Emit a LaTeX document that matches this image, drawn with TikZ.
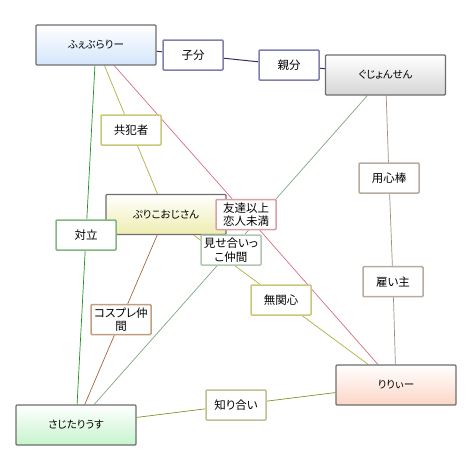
\documentclass[tikz,border=0pt]{standalone}
\usepackage{fontspec}
\setmainfont{Noto Sans CJK JP}[RawFeature=+palt]
\usetikzlibrary{backgrounds}
\definecolor{mainborder}{HTML}{6E6E6E}
\definecolor{febc}{HTML}{D4E6FC}
\definecolor{gujc}{HTML}{D6D6D6}
\definecolor{puric}{HTML}{EEEDB0}
\definecolor{riric}{HTML}{FCD6C6}
\definecolor{sajic}{HTML}{C6F4CC}
\definecolor{navyline}{HTML}{303070}
\definecolor{navybox}{HTML}{8080B0}
\definecolor{oliveline}{HTML}{B0B040}
\definecolor{olivebox}{HTML}{C8C878}
\definecolor{pinkline}{HTML}{D87080}
\definecolor{pinkbox}{HTML}{D8A0A8}
\definecolor{greenline}{HTML}{209020}
\definecolor{greenbox}{HTML}{80B880}
\definecolor{grgrline}{HTML}{80A880}
\definecolor{grgrbox}{HTML}{B0C8B0}
\definecolor{brownline}{HTML}{A06840}
\definecolor{brownbox}{HTML}{C0A080}
\definecolor{taupeline}{HTML}{A09080}
\definecolor{taupebox}{HTML}{B8ACA0}
\definecolor{acqline}{HTML}{909030}
\definecolor{acqbox}{HTML}{C0C090}
\tikzset{
  person/.style={rectangle, minimum width=120pt, minimum height=40pt, inner sep=0pt,
    draw=mainborder, line width=1.2pt, rounded corners=1pt, top color=white,
    bottom color=#1, font=\fontsize{10.5}{13}\selectfont},
  rel/.style={rectangle, minimum width=60pt, minimum height=30pt, inner sep=0pt,
    draw=#1, fill=white, line width=1.5pt, rounded corners=1pt, align=center,
    font=\fontsize{11.5}{13.5}\selectfont},
  link/.style={draw=#1, line width=0.7pt}
}
\begin{document}
\begin{tikzpicture}[x=1pt,y=-1pt]
\useasboundingbox (0,0) rectangle (469,469);
% main nodes
\node[person=febc]  (feb)  at (96,45)    {ふぇぶらりー};
\node[person=gujc]  (guj)  at (385.5,75) {ぐじょんせん};
\node[person=puric] (puri) at (166,214.5) {ぷりこおじさん};
\node[person=riric] (riri) at (396,385)  {りりぃー};
\node[person=sajic] (saji) at (76,425)   {さじたりうす};
% relation labels
\node[rel=navybox]  (kobun)  at (193,55)    {子分};
\node[rel=navybox]  (oyabun) at (289,65)    {親分};
\node[rel=olivebox] (kyou)   at (131,130)   {共犯者};
\node[rel=pinkbox]  (tomo)   at (246,214.5) {友達以上\\恋人未満};
\node[rel=greenbox] (tairitsu) at (86,235)  {対立};
\node[rel=grgrbox]  (mise)   at (231,250)   {見せ合いっ\\こ仲間};
\node[rel=taupebox] (youjin) at (389,178)   {用心棒};
\node[rel=taupebox] (yatoi)  at (393,281.7) {雇い主};
\node[rel=olivebox] (mukan)  at (281,300)   {無関心};
\node[rel=brownbox] (cos)    at (121,319.5) {コスプレ仲\\間};
\node[rel=acqbox]   (shiri)  at (236,405)   {知り合い};
\begin{scope}[on background layer]
\fill[white] (0,0) rectangle (469,469);
\draw[link=navyline, line width=1pt] (feb) -- (kobun);
\draw[link=navyline, line width=1pt] (kobun) -- (oyabun);
\draw[link=navyline, line width=1pt] (oyabun) -- (guj);
\draw[link=oliveline] (feb) -- (kyou);
\draw[link=oliveline] (kyou) -- (puri);
\draw[link=pinkline] (feb) -- (tomo);
\draw[link=pinkline] (tomo) -- (riri);
\draw[link=greenline] (feb) -- (tairitsu);
\draw[link=greenline] (tairitsu) -- (saji);
\draw[link=grgrline] (guj) -- (mise);
\draw[link=grgrline] (mise) -- (saji);
\draw[link=taupeline] (guj) -- (youjin);
\draw[link=taupeline] (youjin) -- (yatoi);
\draw[link=taupeline] (yatoi) -- (riri);
\draw[link=oliveline] (puri) -- (mukan);
\draw[link=oliveline] (mukan) -- (riri);
\draw[link=brownline] (puri) -- (cos);
\draw[link=brownline] (cos) -- (saji);
\draw[link=acqline] (saji) -- (shiri);
\draw[link=acqline] (shiri) -- (riri);
\end{scope}
\end{tikzpicture}
\end{document}
